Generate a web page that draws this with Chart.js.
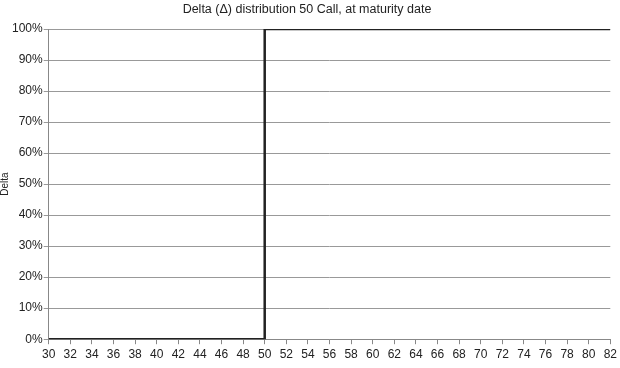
<!DOCTYPE html>
<html><head><meta charset="utf-8">
<script src="https://cdn.jsdelivr.net/npm/chart.js@4/dist/chart.umd.min.js"></script>
<style>html,body{margin:0;padding:0;background:#fff}#w{width:620px;height:368px}</style>
</head><body><div id="w"><canvas id="c"></canvas></div>
<script>
const prices = [30, 50, 50, 82];
const deltaValues = [0, 0, 1, 1];
const xTicks = [30,32,34,36,38,40,42,44,46,48,50,52,54,56,58,60,62,64,66,68,70,72,74,76,78,80,82];
const yTicks = [0,0.1,0.2,0.3,0.4,0.5,0.6,0.7,0.8,0.9,1];

Chart.defaults.font.family = "'Liberation Sans', Arial, sans-serif";
Chart.defaults.color = '#222';
new Chart(document.getElementById('c'), {
  type: 'line',
  data: { datasets: [{
    data: prices.map((p,i)=>({x:p,y:deltaValues[i]})),
    borderColor: '#222', borderWidth: 2.5, pointRadius: 0, tension: 0, fill: false
  }]},
  options: {
    responsive: true, maintainAspectRatio: false, animation: false,
    layout: { padding: { left: -1, right: 5, top: 0, bottom: -13 } },
    plugins: {
      legend: { display: false }, tooltip: { enabled: false },
      title: { display: true, text: 'Delta (Δ) distribution 50 Call, at maturity date',
        font: { size: 12.5, weight: 'normal' }, color: '#222', padding: { top: 2, bottom: 12 } }
    },
    scales: {
      x: { type: 'linear', min: 30, max: 82,
        afterBuildTicks: s => { s.ticks = xTicks.map(v=>({value:v})); },
        ticks: { font: { size: 12 }, color: '#222', maxRotation: 0, autoSkip: false, padding: 3 },
        grid: { drawOnChartArea: false, color: '#888', tickLength: 5 },
        border: { color: '#888', width: 1 },
        title: { display: true, text: 'Price level', font: { size: 12 }, color: '#222', padding: { top: 2, bottom: 0 } }
      },
      y: { min: 0, max: 1,
        afterBuildTicks: s => { s.ticks = yTicks.map(v=>({value:v})); },
        ticks: { font: { size: 12 }, color: '#222', padding: 1, callback: v => Math.round(v*100) + '%' },
        grid: { color: '#999', lineWidth: 1, tickLength: 5 },
        border: { color: '#888', width: 1 },
        title: { display: true, text: 'Delta', font: { size: 10 }, color: '#222', padding: { top: 0, bottom: 0 } }
      }
    }
  }
});
</script></body></html>
